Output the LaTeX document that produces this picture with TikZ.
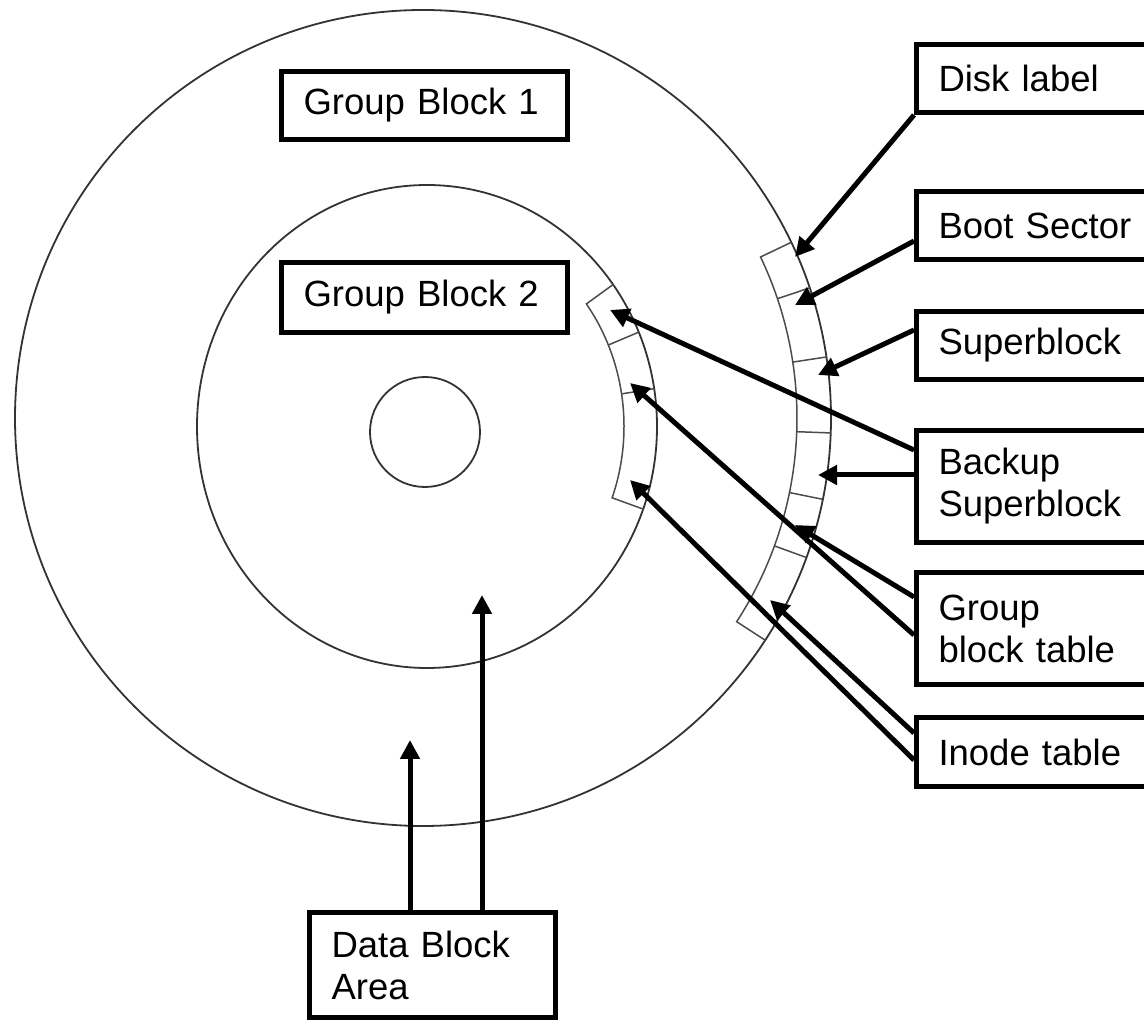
\documentclass[tikz,border=0pt]{standalone}
\usepackage{fontspec}
\setmainfont{Liberation Sans}
\usetikzlibrary{arrows.meta,calc}
\begin{document}
\begin{tikzpicture}[x=1pt,y=1pt,
  box/.style={draw=black, fill=white, line width=5pt, anchor=north west, inner xsep=22pt, inner ysep=0pt, align=left, font=\fontsize{36.5}{42}\selectfont},
  rbox/.style={box, text width=250pt},
  ring/.style={draw=black!80, line width=1.8pt},
  seg/.style={draw=black!70, line width=1.5pt},
  arr/.style={line width=5pt, -{Triangle[length=19pt,width=19pt]}}]
\useasboundingbox (0,0) rectangle (1144,1023);
\clip (0,0) rectangle (1144,1023);
\fill[white] (0,0) rectangle (1144,1023);
\coordinate (O) at (423,605);
\coordinate (M) at (427,596.5);
\coordinate (I) at (425,591);
% disk rings
\draw[ring] (O) circle[radius=408];
\draw[ring] (M) ellipse[x radius=230, y radius=241.5];
\draw[ring] (I) circle[radius=55];
% outer strip of group block 1
\draw[seg] ($(O)+(25.5:408)$) -- ($(O)+(25.5:374)$) arc[start angle=25.5, end angle=-33, radius=374] -- ($(O)+(-33:408)$);
\foreach \a in {18.6,8.6,-2.1,-11.5,-20} \draw[seg] ($(O)+(\a:374)$) -- ($(O)+(\a:408)$);
% inner strip of group block 2
\draw[seg] ($(M)+(36:230 and 241.5)$) -- ($(M)+(36:197 and 208.5)$) arc[start angle=36, end angle=-20, x radius=197, y radius=208.5] -- ($(M)+(-20:230 and 241.5)$);
\foreach \a in {23,9} \draw[seg] ($(M)+(\a:197 and 208.5)$) -- ($(M)+(\a:230 and 241.5)$);
% arrow targets
\coordinate (tDisk) at (795,766);
\coordinate (tBoot) at (795,718);
\coordinate (tSuper) at (818,648);
\coordinate (tBackup) at (818,548);
\coordinate (tGroup) at (795,498);
\coordinate (tInode) at (770,423);
\coordinate (tBackupIn) at (610,713);
\coordinate (tGroupIn) at (630,640);
\coordinate (tInodeIn) at (630,543);
\coordinate (tData1) at (410,283);
\coordinate (tData2) at (482,428);
% boxes
\node[box, text width=242pt, minimum height=68pt] (gb1) at (279,954) {Group Block 1};
\node[box, text width=242pt, minimum height=70pt] (gb2) at (279,763) {Group Block 2};
\node[rbox, minimum height=68pt] (disk) at (914,981) {Disk label};
\node[rbox, minimum height=68pt] (boot) at (914,834) {Boot Sector};
\node[rbox, minimum height=68pt] (super) at (914,714) {Superblock};
\node[rbox, minimum height=112pt] (backup) at (914,595) {Backup\\Superblock};
\node[rbox, minimum height=112pt] (group) at (914,453) {Group\\block table};
\node[rbox, minimum height=69pt] (inode) at (914,308) {Inode table};
\node[box, text width=202pt, minimum height=105pt] (data) at (307,113) {Data Block\\Area};
% connectors
\draw[arr] (disk.south west) -- (tDisk);
\draw[arr] ([yshift=-52pt]boot.north west) -- (tBoot);
\draw[arr] ([yshift=-21pt]super.north west) -- (tSuper);
\draw[arr] ([yshift=-22pt]backup.north west) -- (tBackupIn);
\draw[arr] ([yshift=-47pt]backup.north west) -- (tBackup);
\draw[arr] ([yshift=-27pt]group.north west) -- (tGroup);
\draw[arr] ([yshift=-65pt]group.north west) -- (tGroupIn);
\draw[arr] ([yshift=-18pt]inode.north west) -- (tInode);
\draw[arr] ([yshift=-45pt]inode.north west) -- (tInodeIn);
\draw[arr] ([xshift=103pt]data.north west) -- (tData1);
\draw[arr] ([xshift=175pt]data.north west) -- (tData2);
\end{tikzpicture}
\end{document}
